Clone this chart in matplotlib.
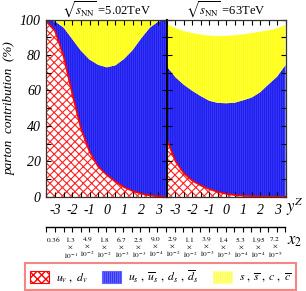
import numpy as np
import matplotlib
matplotlib.use('Agg')
import matplotlib.pyplot as plt
from matplotlib.patches import Patch

plt.rcParams['font.family'] = ['Liberation Serif', 'DejaVu Serif']
plt.rcParams['mathtext.fontset'] = 'stix'

# rapidity grid (same for both energies)
rap = [-3.5, -3.0, -2.5, -2.0, -1.5, -1.0, -0.5, 0.0, 0.5, 1.0, 1.5, 2.0, 2.5, 3.0, 3.5]

# sqrt(s_NN) = 5.02 TeV : cumulative contributions (%)
val_502 = [99, 93.5, 79, 58, 38.5, 25.5, 17, 12.3, 8.5, 5.4, 3.2, 1.7, 0.7, 0.2, 0.0]
sea_502 = [100, 99, 95.5, 89, 82.5, 77.5, 74.5, 73.1, 74.2, 77.8, 82.8, 89.5, 95.5, 99, 100]
tot_502 = [100] * 15

# sqrt(s_NN) = 63 TeV
val_63 = [32, 20, 13.2, 9, 6.3, 4.3, 2.7, 1.6, 0.9, 0.5, 0.3, 0.15, 0.05, 0.0, 0.0]
sea_63 = [73.5, 67.5, 63.2, 59.8, 56.8, 54.2, 53, 52.8, 53.1, 54.5, 56, 59, 63.5, 67.8, 74.4]
tot_63 = [97.4, 95.3, 93.5, 92.4, 91.6, 91, 90.8, 90.8, 91.2, 91.7, 92.4, 93.2, 94, 95, 97]

titles = [r'$\sqrt{s_{\rm NN}}$ =5.02TeV', r'$\sqrt{s_{\rm NN}}$ =63TeV']
xtick_vals = [-3, -2, -1, 0, 1, 2, 3]

# x2 labels under each panel
x2_mant_502 = ['0.36', '1.3', '4.9', '1.8', '6.7', '2.5', '9.0']
x2_exp_502 = [None, '-1', '-2', '-2', '-3', '-3', '-4']
x2_mant_63 = ['2.9', '1.1', '3.9', '1.4', '5.3', '1.95', '7.2']
x2_exp_63 = ['-2', '-2', '-3', '-3', '-4', '-4', '-5']

W, H = 306, 291
fig = plt.figure(figsize=(W / 100, H / 100), dpi=100)

def fx(px):
    return px / W

def fy(py):
    return 1 - py / H

top, bot = 19.7, 196.7
ax1 = fig.add_axes([fx(46.5), fy(bot), fx(167 - 46.5), (bot - top) / H])
ax2 = fig.add_axes([fx(167), fy(bot), fx(285.5 - 167), (bot - top) / H])

blue = '#1e1ef0'
yellow = '#ffff10'
blue_h = '#6464ff'
yellow_h = '#ffffa0'

for ax, val, sea, tot, title in [(ax1, val_502, sea_502, tot_502, titles[0]),
                                 (ax2, val_63, sea_63, tot_63, titles[1])]:
    with plt.rc_context({'hatch.linewidth': 0.8}):
        ax.fill_between(rap, 0, val, facecolor='white', edgecolor='#ff2020',
                        hatch='xxxx', linewidth=0)
    with plt.rc_context({'hatch.linewidth': 0.25}):
        ax.fill_between(rap, val, sea, facecolor=blue, edgecolor=blue_h,
                        hatch='||||||||', linewidth=0)
        ax.fill_between(rap, sea, tot, facecolor=yellow, edgecolor=yellow_h,
                        hatch='||||||||', linewidth=0)
    ax.plot(rap, val, color='red', lw=1.2)
    ax.set_xlim(-3.5, 3.5)
    ax.set_ylim(0, 100)
    ax.set_xticks(xtick_vals)
    ax.set_xticks(np.arange(-3.5, 3.6, 0.5), minor=True)
    ax.set_xticklabels([str(v) for v in xtick_vals], fontstyle='italic', fontsize=10)
    ax.set_yticks(range(0, 101, 20))
    ax.set_yticks(range(0, 101, 10), minor=True)
    ax.tick_params(which='both', direction='in', top=True, right=True,
                   length=3.5, width=0.8, pad=4)
    ax.tick_params(axis='x', pad=5)
    for s in ax.spines.values():
        s.set_linewidth(0.9)
        s.set_color('#333333')
    ax.set_title(title, fontsize=9, pad=1.5)

ax1.set_yticklabels([str(v) for v in range(0, 101, 20)], fontstyle='italic', fontsize=10)
ax1.spines['right'].set_color('black')
ax1.spines['right'].set_linewidth(1.3)
ax2.tick_params(labelleft=False)
ax2.spines['left'].set_color('black')
ax2.spines['left'].set_linewidth(1.3)
ax1.set_ylabel('parton  contribution  (%)', fontstyle='italic', fontsize=9.5, labelpad=3)

fig.text(fx(286), fy(207), r'$y^{Z}$', fontsize=12, ha='left', va='center')

# x2 scale
axx = fig.add_axes([fx(46.5), fy(232), fx(285.5 - 46.5), 5 / H])
axx.set_xlim(0, 14)
axx.set_ylim(0, 1)
for side in ['bottom', 'left', 'right']:
    axx.spines[side].set_visible(False)
axx.spines['top'].set_linewidth(1.0)
axx.set_yticks([])
axx.set_xticks(np.arange(0, 14.01, 0.5))
axx.tick_params(axis='x', bottom=False, top=True, labelbottom=False,
                direction='in', length=3.5, width=0.8)
axx.patch.set_alpha(0)

tr = axx.get_xaxis_transform()
for offs, mants, exps in [(3.5, x2_mant_502, x2_exp_502), (10.5, x2_mant_63, x2_exp_63)]:
    for v, m, e in zip(xtick_vals, mants, exps):
        xp = v + offs - 0.12
        if e is None:
            s = '$\\it{%s}$' % m
        else:
            s = '$\\it{%s}$\n$\\times$\n$\\it{10^{%s}}$' % (m, e)
        axx.text(xp, -0.6, s, fontsize=5.3, ha='center', va='top',
                 linespacing=0.95, transform=tr, fontstyle='italic')

fig.text(fx(287), fy(241), r'$x_2$', fontsize=12, ha='left', va='center')

handles = [Patch(facecolor='white', edgecolor='red', hatch='xxxx', lw=0.8),
           Patch(facecolor=blue, edgecolor=blue_h, hatch='||||||||', lw=0.8),
           Patch(facecolor=yellow, edgecolor=yellow_h, hatch='||||||||', lw=0.8)]
labels = [r'$u_v\ ,\ d_v$',
          r'$u_s\ ,\ \overline{u}_s\ ,\ d_s\ ,\ \overline{d}_s$',
          r'$s\ ,\ \overline{s}\ ,\ c\ ,\ \overline{c}$']
leg = fig.legend(handles, labels, loc='center', bbox_to_anchor=(fx(160.5), fy(276.5)),
                 ncol=3, fontsize=8.5, frameon=True, fancybox=False,
                 handlelength=1.6, handleheight=1.1, handletextpad=0.6,
                 columnspacing=1.2, borderpad=0.45, borderaxespad=0)
leg.get_frame().set_edgecolor('#f06868')
leg.get_frame().set_linewidth(1.5)

fig.savefig('out.png', dpi=100)
